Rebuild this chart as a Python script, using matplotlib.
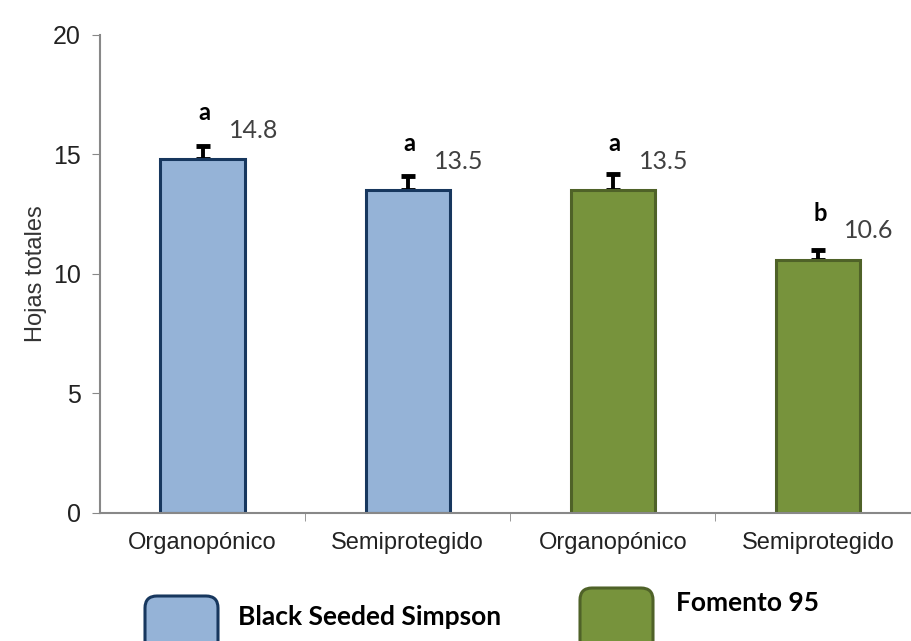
import matplotlib
matplotlib.use("Agg")
import matplotlib.pyplot as plt
from matplotlib import font_manager
from matplotlib.patches import FancyBboxPatch

# datos
categorias = ["Organopónico", "Semiprotegido", "Organopónico", "Semiprotegido"]
hojas = [14.8, 13.5, 13.5, 10.6]
error = [0.55, 0.6, 0.7, 0.4]
letras = ["a", "a", "a", "b"]
variedades = ["Black Seeded Simpson", "Fomento 95"]
grupo = [0, 0, 1, 1]

relleno = ["#95B3D7", "#77933C"]
borde = ["#17375E", "#4F6228"]

try:
    font_manager.findfont("Liberation Sans Narrow", fallback_to_default=False)
    fuente_x = "Liberation Sans Narrow"
except Exception:
    fuente_x = "Liberation Sans"

fig = plt.figure(figsize=(9.12, 6.41), dpi=100)
ax = fig.add_axes([0.1096, 0.1997, 0.8904, 0.7457])

x = list(range(len(hojas)))
ax.bar(x, hojas, width=0.41,
       color=[relleno[g] for g in grupo],
       edgecolor=[borde[g] for g in grupo], linewidth=2.2, zorder=2)
ax.errorbar(x, hojas, yerr=[[0] * len(error), error], fmt="none",
            ecolor="black", elinewidth=2.8, capsize=5, capthick=3.5, zorder=1)

for xi, v, e, l in zip(x, hojas, error, letras):
    ax.text(xi + 0.01, v + 1.95, l, ha="center", va="center",
            fontsize=17, fontweight="bold", family="Lato", color="black")
    ax.text(xi + 0.25, v + 1.2, f"{v:.1f}", ha="center", va="center",
            fontsize=18, family="Lato", color="#404040")

ax.set_ylim(0, 20)
ax.set_xlim(-0.5, 3.459)
ax.set_yticks([0, 5, 10, 15, 20])
ax.set_xticks(x)
ax.set_xticklabels(categorias, family=fuente_x, fontsize=17, color="#222222")
ax.set_xticks([0.5, 1.5, 2.5], minor=True)
ax.tick_params(axis="x", which="major", length=0, pad=14)
ax.tick_params(axis="x", which="minor", length=6, color="#888888", direction="out")
ax.tick_params(axis="y", length=6, color="#888888", labelsize=18, pad=8,
               labelcolor="#222222")
for t in ax.get_yticklabels():
    t.set_family("Liberation Sans")
ax.set_ylabel("Hojas totales", family="Liberation Sans", fontsize=17,
              color="#333333", labelpad=4)

for s in ["top", "right"]:
    ax.spines[s].set_visible(False)
for s in ["left", "bottom"]:
    ax.spines[s].set_color("#888888")
    ax.spines[s].set_linewidth(1.5)

# leyenda hecha a mano, cuadros redondeados abajo
cajas = [(1.45, 0.45), (5.80, 0.53)]
textos_pos = [(2.38, 0.24), (6.76, 0.38)]
for i, nombre in enumerate(variedades):
    cx, top = cajas[i]
    p = FancyBboxPatch((cx + 0.08, -0.3), 0.57, top + 0.3 - 0.08,
                       boxstyle="round,pad=0.08,rounding_size=0.12",
                       transform=fig.dpi_scale_trans,
                       facecolor=relleno[i], edgecolor=borde[i], linewidth=2.2)
    fig.add_artist(p)
    tx, ty = textos_pos[i]
    fig.text(tx, ty, nombre, transform=fig.dpi_scale_trans, ha="left", va="center",
             fontsize=19, fontweight="bold", family="Lato", color="black")

fig.savefig("out.png", dpi=100)
